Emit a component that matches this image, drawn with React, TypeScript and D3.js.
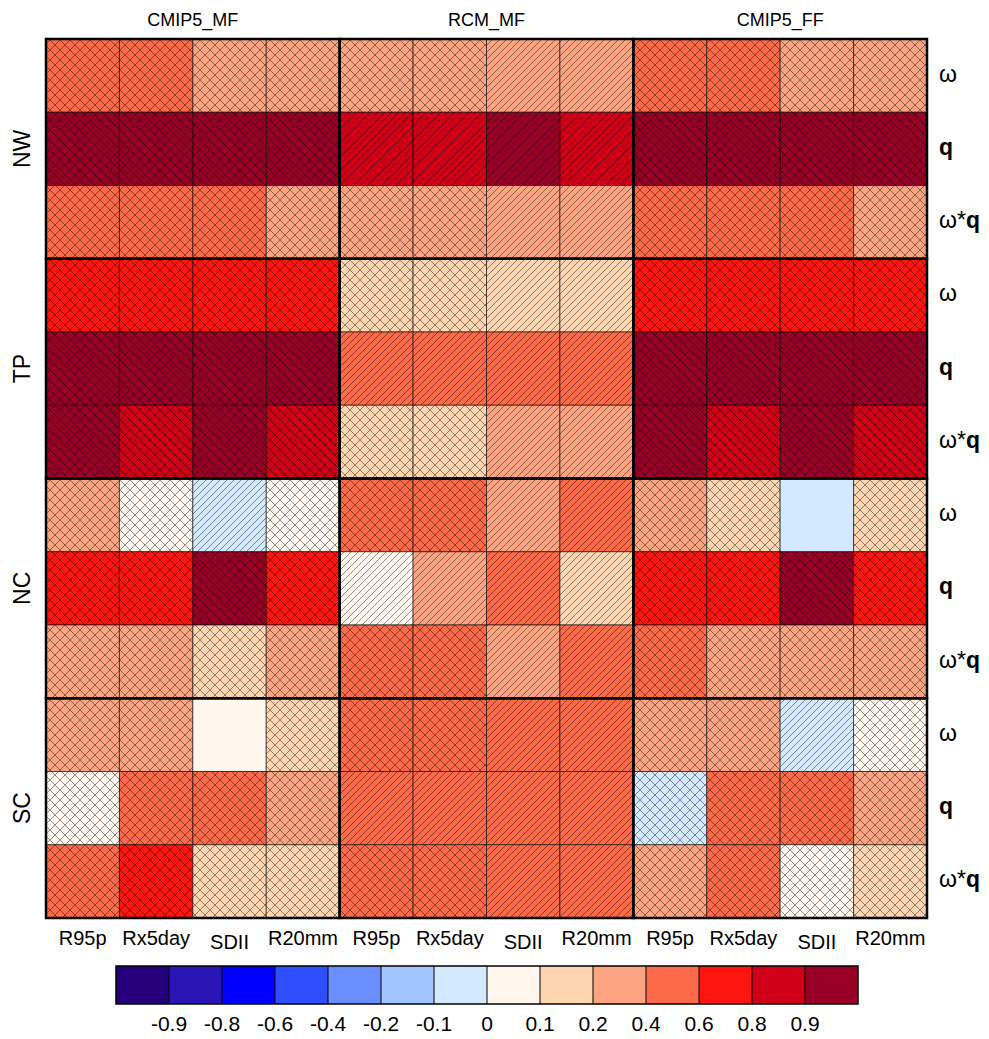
import React from "react";
import * as d3 from "d3";

// axis labels
const groups = ["CMIP5_MF", "RCM_MF", "CMIP5_FF"];
const indices = ["R95p", "Rx5day", "SDII", "R20mm"];
const regions = ["NW", "TP", "NC", "SC"];
const terms = ["ω", "q", "ω*q"];

// colour bins
const breaks = [-0.9, -0.8, -0.6, -0.4, -0.2, -0.1, 0, 0.1, 0.2, 0.4, 0.6, 0.8, 0.9];
const palette = [
  "#26007c", "#2a14b4", "#0000ff", "#2f4fff", "#6b8eff", "#a2c5ff", "#d3e9ff",
  "#fff7ed", "#fdd5b1", "#fca482", "#fc6a49", "#ff1510", "#cf0018", "#980026",
];

// contributions, one row per region/term, 12 columns (3 datasets x 4 indices)
const nwOmega = [0.5, 0.5, 0.3, 0.3, 0.3, 0.3, 0.3, 0.3, 0.5, 0.5, 0.3, 0.3];
const nwQ = [0.95, 0.95, 0.95, 0.95, 0.85, 0.85, 0.95, 0.85, 0.95, 0.95, 0.95, 0.95];
const nwOmegaQ = [0.5, 0.5, 0.5, 0.3, 0.3, 0.3, 0.3, 0.3, 0.5, 0.5, 0.5, 0.3];
const tpOmega = [0.7, 0.7, 0.7, 0.7, 0.15, 0.15, 0.15, 0.15, 0.7, 0.7, 0.7, 0.7];
const tpQ = [0.95, 0.95, 0.95, 0.95, 0.5, 0.5, 0.5, 0.5, 0.95, 0.95, 0.95, 0.95];
const tpOmegaQ = [0.95, 0.85, 0.95, 0.85, 0.15, 0.15, 0.3, 0.3, 0.95, 0.85, 0.95, 0.85];
const ncOmega = [0.3, 0.05, -0.05, 0.05, 0.5, 0.5, 0.3, 0.5, 0.3, 0.15, -0.05, 0.15];
const ncQ = [0.7, 0.7, 0.95, 0.7, 0.05, 0.3, 0.5, 0.15, 0.7, 0.7, 0.95, 0.7];
const ncOmegaQ = [0.3, 0.3, 0.15, 0.3, 0.5, 0.5, 0.3, 0.5, 0.5, 0.3, 0.3, 0.3];
const scOmega = [0.3, 0.3, 0.05, 0.15, 0.5, 0.5, 0.5, 0.5, 0.3, 0.3, -0.05, 0.05];
const scQ = [0.05, 0.5, 0.5, 0.3, 0.5, 0.5, 0.5, 0.5, -0.05, 0.5, 0.5, 0.3];
const scOmegaQ = [0.5, 0.7, 0.15, 0.15, 0.5, 0.5, 0.5, 0.5, 0.3, 0.5, 0.05, 0.15];

// significance hatching: x = cross, / = single, - = none
const hatches = [
  "xxxxxx//xxxx",
  "xxxx////xxxx",
  "xxxxxx//xxxx",
  "xxxxxx//xxxx",
  "xxxx////xxxx",
  "xxxxxx//xxxx",
  "xx/xxx//xx-x",
  "xxxx////xxxx",
  "xxxxxx//xxxx",
  "xx-xxx//xx/x",
  "xxxx////xxxx",
  "xxxxxx//xxxx",
];

const rows = [nwOmega, nwQ, nwOmegaQ, tpOmega, tpQ, tpOmegaQ, ncOmega, ncQ, ncOmegaQ, scOmega, scQ, scOmegaQ];

const W = 989;
const H = 1039;
const left = 46;
const top = 39;
const gw = 881;
const gh = 879;
const font = "'Liberation Sans', Arial, sans-serif";

function TermLabel({ t, x, y }: { t: string; x: number; y: number }) {
  // omega is drawn thin, q bold, like the original
  const parts = t.split(/(q)/).filter((s) => s);
  return (
    <text x={x} y={y} fontFamily={font} fontSize={23}>
      {parts.map((p, i) => (
        <tspan key={i} fontWeight={p === "q" ? "bold" : "normal"}>{p}</tspan>
      ))}
    </text>
  );
}

export default function App() {
  const colLabels = groups.flatMap((g) => indices.map((c) => `${g}|${c}`));
  const rowLabels = regions.flatMap((r) => terms.map((t) => `${r}|${t}`));

  const x = d3.scaleBand().domain(colLabels).range([left, left + gw]);
  const y = d3.scaleBand().domain(rowLabels).range([top, top + gh]);
  const color = d3.scaleThreshold<number, string>().domain(breaks).range(palette);

  const gx = d3.scaleBand().domain(groups).range([left, left + gw]);
  const ry = d3.scaleBand().domain(regions).range([top, top + gh]);

  const cb = d3.scaleBand().domain(palette.map((_, i) => String(i))).range([116, 858]);

  const cells = rows.flatMap((row, i) =>
    row.map((v, j) => ({ v, h: hatches[i][j], col: colLabels[j], row: rowLabels[i] }))
  );

  return (
    <svg width={W} height={H} style={{ position: "absolute", left: 0, top: 0 }}>
      <defs>
        <pattern id="hx" width={10} height={10} patternUnits="userSpaceOnUse">
          <path d="M0,10 L10,0 M-1,1 L1,-1 M9,11 L11,9 M0,0 L10,10 M-1,9 L1,11 M9,-1 L11,1"
            stroke="rgba(0,0,0,0.55)" strokeWidth={0.8} />
        </pattern>
        <pattern id="hs" width={7} height={7} patternUnits="userSpaceOnUse">
          <path d="M0,7 L7,0 M-1,1 L1,-1 M6,8 L8,6" stroke="rgba(0,0,0,0.55)" strokeWidth={0.8} />
        </pattern>
      </defs>
      <rect width={W} height={H} fill="#fff" />

      {cells.map((d, k) => (
        <g key={k}>
          <rect x={x(d.col)} y={y(d.row)} width={x.bandwidth()} height={y.bandwidth()} fill={color(d.v)} />
          {d.h !== "-" && (
            <rect x={x(d.col)} y={y(d.row)} width={x.bandwidth()} height={y.bandwidth()}
              fill={d.h === "x" ? "url(#hx)" : "url(#hs)"} />
          )}
          <rect x={x(d.col)} y={y(d.row)} width={x.bandwidth()} height={y.bandwidth()}
            fill="none" stroke="rgba(0,0,0,0.6)" strokeWidth={1} />
        </g>
      ))}

      {groups.map((g) =>
        regions.map((r) => (
          <rect key={g + r} x={gx(g)} y={ry(r)} width={gx.bandwidth()} height={ry.bandwidth()}
            fill="none" stroke="#000" strokeWidth={2.5} />
        ))
      )}

      {groups.map((g) => (
        <text key={g} x={gx(g)! + gx.bandwidth() / 2} y={26} textAnchor="middle"
          fontFamily={font} fontSize={18}>{g}</text>
      ))}

      {regions.map((r) => {
        const cy = ry(r)! + ry.bandwidth() / 2;
        return (
          <text key={r} transform={`translate(30,${cy}) rotate(-90)`} textAnchor="middle"
            fontFamily={font} fontSize={23}>{r}</text>
        );
      })}

      {rowLabels.map((r) => (
        <TermLabel key={r} t={r.split("|")[1]} x={939} y={y(r)! + y.bandwidth() / 2 + 6} />
      ))}

      {colLabels.map((c) => {
        const t = c.split("|")[1];
        return (
          <text key={c} x={x(c)! + x.bandwidth() / 2} y={t === "SDII" ? 949 : 945}
            textAnchor="middle" fontFamily={font} fontSize={20}>{t}</text>
        );
      })}

      {palette.map((p, i) => (
        <rect key={p} x={cb(String(i))} y={966} width={cb.bandwidth()} height={38} fill={p} />
      ))}
      <rect x={116} y={966} width={742} height={38} fill="none" stroke="#000" strokeWidth={1.5} />
      {palette.slice(1).map((_, i) =>
        <line key={i} x1={cb(String(i + 1))} x2={cb(String(i + 1))} y1={966} y2={1004}
          stroke="#000" strokeWidth={1} />
      )}
      {breaks.map((b, i) => (
        <text key={b} x={cb(String(i + 1))} y={1031} textAnchor="middle" fontFamily={font}
          fontSize={21}>{b}</text>
      ))}
    </svg>
  );
}
